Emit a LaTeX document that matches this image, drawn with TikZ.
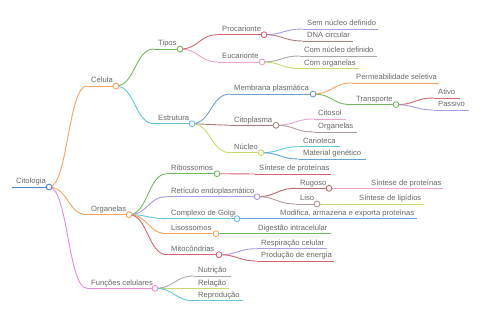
\documentclass[tikz,border=0pt]{standalone}
\usepackage{fontspec}
\setmainfont{Liberation Sans}
\usetikzlibrary{calc}
\definecolor{txt}{HTML}{666666}
\definecolor{cblue}{HTML}{4A86C5}
\definecolor{clblue}{HTML}{62A2D8}
\definecolor{corange}{HTML}{F7A35C}
\definecolor{cmag}{HTML}{E48AD6}
\definecolor{cgreen}{HTML}{72B85F}
\definecolor{ccyan}{HTML}{5EC8D8}
\definecolor{cred}{HTML}{D9606F}
\definecolor{cpink}{HTML}{E9A3CD}
\definecolor{clav}{HTML}{A99BE6}
\definecolor{cmauve}{HTML}{A97E7E}
\definecolor{cgray}{HTML}{A8A8A8}
\definecolor{cyg}{HTML}{C9D86B}
\definecolor{cmblue}{HTML}{6C9FD0}
\definecolor{cgmauve}{HTML}{AC9A9A}
\definecolor{cbrown}{HTML}{B46A6A}
\newcommand{\mmn}[6]{%
  \coordinate (#1s) at ({#2-4},#3);
  \coordinate (#1e) at (#4,#3);
  \node[lbl,anchor=base west] (#1) at (#2,{#3-3}) {#6};
  \draw[#5,ln] (#1s) -- (#1e);}
\newcommand{\mmlink}[3]{\draw[#3,ln] let \p1=(#1e), \p2=(#2s) in (#1e) .. controls ({0.5*\x1+0.5*\x2},\y1) and ({0.5*\x1+0.5*\x2},\y2) .. (#2s);}
\newcommand{\mmdot}[2]{\node[dot=#2] (#1c) at (#1e) {};}
\begin{document}
\begin{tikzpicture}[x=1pt,y=-1pt,
  lbl/.style={font=\fontsize{7.6}{9}\selectfont, text=txt, inner sep=0pt},
  ln/.style={line width=0.9pt},
  dot/.style={circle, draw=#1, fill=white, line width=0.9pt, minimum size=5.8pt, inner sep=0pt}]
\useasboundingbox (0,0) rectangle (480,320);
% nodes
\mmn{cit}{16}{187}{49}{cblue}{Citologia}
\mmn{cel}{91}{86}{116}{corange}{Célula}
\mmn{tip}{158}{49}{180}{cgreen}{Tipos}
\mmn{pro}{222}{34.7}{264}{cred}{Procarionte}
\mmn{euc}{222}{62}{262}{cpink}{Eucarionte}
\mmn{sem}{307}{29}{378}{clav}{Sem núcleo definido}
\mmn{dna}{307}{41}{353}{cmauve}{DNA circular}
\mmn{cnd}{304}{56}{377}{cgray}{Com núcleo definido}
\mmn{cor}{304}{68.5}{359}{cyg}{Com organelas}
\mmn{est}{158}{123.7}{192}{ccyan}{Estrutura}
\mmn{mem}{234}{94}{313}{cmblue}{Membrana plasmática}
\mmn{cyt}{234}{125.3}{276}{cmauve}{Citoplasma}
\mmn{nuc}{234}{152.7}{261}{cyg}{Núcleo}
\mmn{per}{356}{83}{439}{corange}{Permeabilidade seletiva}
\mmn{tra}{356}{104.7}{396}{cgreen}{Transporte}
\mmn{ati}{438}{98}{460}{cred}{Ativo}
\mmn{pas}{438}{110}{469}{clav}{Passivo}
\mmn{cso}{318}{119}{346}{cpink}{Citosol}
\mmn{orl}{318}{132}{357}{cgmauve}{Organelas}
\mmn{car}{303}{146.7}{340}{ccyan}{Carioteca}
\mmn{mat}{303}{159}{366}{clblue}{Material genético}
\mmn{org}{91}{214.7}{129}{corange}{Organelas}
\mmn{rib}{171}{173.7}{217}{cgreen}{Ribossomos}
\mmn{spa}{259}{174}{331}{cred}{Síntese de proteínas}
\mmn{ret}{171}{196.7}{257}{clav}{Retículo endoplasmático}
\mmn{rug}{300}{188.3}{329}{cbrown}{Rugoso}
\mmn{spb}{371}{188.3}{443}{cpink}{Síntese de proteínas}
\mmn{lis}{300}{204}{317}{cgmauve}{Liso}
\mmn{sli}{359}{204}{424}{cyg}{Síntese de lipídios}
\mmn{gol}{171}{218.7}{237}{ccyan}{Complexo de Golgi}
\mmn{mod}{280}{218.7}{417}{cmblue}{Modifica, armazena e exporta proteínas}
\mmn{lys}{171}{233.7}{216}{corange}{Lisossomos}
\mmn{dig}{258}{233.7}{331}{cgreen}{Digestão intracelular}
\mmn{mit}{171}{254.7}{219}{cred}{Mitocôndrias}
\mmn{res}{261}{248.7}{327}{clav}{Respiração celular}
\mmn{prd}{261}{261}{334}{cred}{Produção de energia}
\mmn{fun}{91}{288.3}{155}{cmag}{Funções celulares}
\mmn{nut}{198}{276}{231}{cgray}{Nutrição}
\mmn{rel}{198}{288.3}{229}{cyg}{Relação}
\mmn{rep}{198}{300.7}{243}{ccyan}{Reprodução}
% links
\mmlink{cit}{cel}{corange}
\mmlink{cit}{org}{corange}
\mmlink{cit}{fun}{cmag}
\mmlink{cel}{tip}{cgreen}
\mmlink{cel}{est}{ccyan}
\mmlink{tip}{pro}{cred}
\mmlink{tip}{euc}{cpink}
\mmlink{pro}{sem}{clav}
\mmlink{pro}{dna}{cmauve}
\mmlink{euc}{cnd}{cgray}
\mmlink{euc}{cor}{cyg}
\mmlink{est}{mem}{cmblue}
\mmlink{est}{cyt}{cmauve}
\mmlink{est}{nuc}{cyg}
\mmlink{mem}{per}{corange}
\mmlink{mem}{tra}{cgreen}
\mmlink{tra}{ati}{cred}
\mmlink{tra}{pas}{clav}
\mmlink{cyt}{cso}{cpink}
\mmlink{cyt}{orl}{cgmauve}
\mmlink{nuc}{car}{ccyan}
\mmlink{nuc}{mat}{clblue}
\mmlink{org}{rib}{cgreen}
\mmlink{org}{ret}{clav}
\mmlink{org}{gol}{ccyan}
\mmlink{org}{lys}{corange}
\mmlink{org}{mit}{cred}
\mmlink{rib}{spa}{cred}
\mmlink{ret}{rug}{cbrown}
\mmlink{ret}{lis}{cgmauve}
\mmlink{rug}{spb}{cpink}
\mmlink{lis}{sli}{cyg}
\mmlink{gol}{mod}{cmblue}
\mmlink{lys}{dig}{cgreen}
\mmlink{mit}{res}{clav}
\mmlink{mit}{prd}{cred}
\mmlink{fun}{nut}{cgray}
\mmlink{fun}{rel}{cyg}
\mmlink{fun}{rep}{ccyan}
% dots
\mmdot{cit}{cblue}
\mmdot{cel}{corange}
\mmdot{tip}{cgreen}
\mmdot{pro}{cred}
\mmdot{euc}{cpink}
\mmdot{est}{ccyan}
\mmdot{mem}{cmblue}
\mmdot{cyt}{cmauve}
\mmdot{nuc}{cyg}
\mmdot{tra}{cgreen}
\mmdot{org}{corange}
\mmdot{rib}{cgreen}
\mmdot{ret}{clav}
\mmdot{rug}{cbrown}
\mmdot{lis}{cgmauve}
\mmdot{gol}{ccyan}
\mmdot{lys}{corange}
\mmdot{mit}{cred}
\mmdot{fun}{cmag}
\end{tikzpicture}
\end{document}
